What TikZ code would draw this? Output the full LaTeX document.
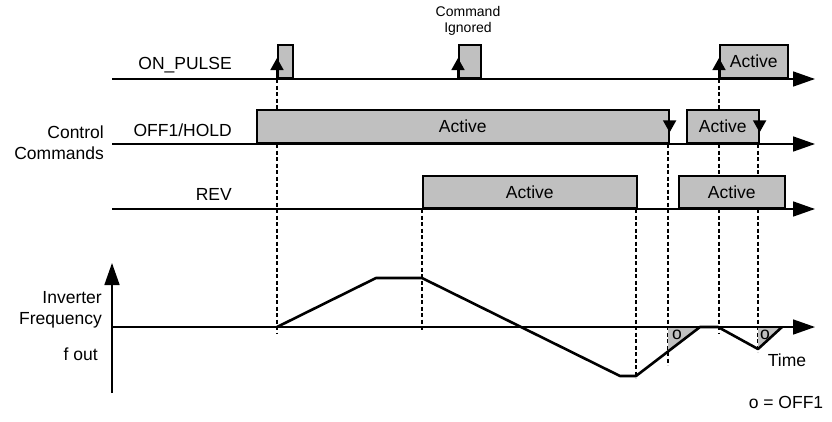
\documentclass[tikz,border=0pt]{standalone}
\usepackage{fontspec}
\setmainfont{Liberation Sans}
\usetikzlibrary{arrows.meta,positioning}
\definecolor{barfill}{RGB}{192,192,192}

\begin{document}
\begin{tikzpicture}[x=1pt,y=-1pt,
    every node/.style={font=\fontsize{17.5}{21}\selectfont,inner sep=0pt},
    axis/.style={line width=1.6pt,-{Triangle[length=22pt,width=15pt]}},
    bar/.style={draw,line width=1.6pt,fill=barfill,anchor=south west},
    trig/.style={line width=1.6pt,-{Triangle[length=12pt,width=13pt]}},
    guide/.style={line width=1.2pt,dash pattern=on 4pt off 2.5pt},
    fcurve/.style={line width=2.6pt,line join=round}]
\useasboundingbox (0,0) rectangle (832,421);

% time lines
\coordinate (on0) at (112,79);
\coordinate (on1) at (815,79);
\coordinate (hold0) at (112,144);
\coordinate (hold1) at (815,144);
\coordinate (rev0) at (112,209);
\coordinate (rev1) at (815,209);
\coordinate (f0) at (112,327);
\coordinate (f1) at (815,327);
\coordinate (fbot) at (112,393);
\coordinate (ftop) at (112,263);

% guide lines, the bars cover them
\foreach \x/\ya/\yb in {277/79/333, 719/79/333, 422/209/331, 636/209/378, 668/144/365, 758/144/352}{
    \coordinate (ga\x) at (\x,\ya);
    \coordinate (gb\x) at (\x,\yb);
    \draw[guide] (ga\x) -- (gb\x);
}

% OFF1 areas
\fill[barfill] (668,327) -- (668,351) -- (700,327) -- cycle;
\fill[barfill] (758,327) -- (758,349) -- (782,327) -- cycle;

\draw[axis] (on0) -- (on1);
\draw[axis] (hold0) -- (hold1);
\draw[axis] (rev0) -- (rev1);
\draw[axis] (f0) -- (f1);
\draw[axis] (fbot) -- (ftop);

% signal bars
\node[bar,minimum width=15pt,minimum height=33pt] (pulse1) at (277,79) {};
\node[bar,minimum width=22pt,minimum height=33pt] (pulse2) at (458,79) {};
\node[bar,minimum width=68pt,minimum height=33pt] (pulse3) at (719,79) {Active};
\node[bar,minimum width=412pt,minimum height=33pt] (hold1) at (256,144) {Active};
\node[bar,minimum width=72pt,minimum height=33pt] (hold2) at (686,144) {Active};
\node[bar,minimum width=214pt,minimum height=32pt] (rev1) at (422,209) {Active};
\node[bar,minimum width=106pt,minimum height=32pt] (rev2) at (678,209) {Active};

% trigger arrows
\foreach \n in {pulse1,pulse2,pulse3}
    \draw[trig] (\n.south west) -- ++(0,-21);
\foreach \n in {hold1,hold2}
    \draw[trig] (\n.north east) ++(0,4) -- ++(0,19);

% frequency
\draw[fcurve] (277,327) -- (376,278) -- (422,278) -- (620,376) -- (636,376)
    -- (700,327) -- (718,327) -- (758,349) -- (782,327);
\node at (677,335) {o};
\node at (765,335) {o};

% labels
\node[anchor=east] (lon) at (232,65) {ON\_PULSE};
\node[anchor=east] (lhold) at (232,130) {OFF1/HOLD};
\node[anchor=east] (lrev) at (232,194) {REV};
\node[anchor=east,align=right] (lctrl) at (104,143) {Control\\Commands};
\node[anchor=east,align=right] (lfreq) at (102,310) {Inverter\\Frequency};
\node[anchor=east] (lfout) at (98,354) {f out};
\node[font=\fontsize{14}{16}\selectfont,align=center] (lign) at (468,21) {Command\\Ignored};
\node (ltime) at (787,360) {Time};
\node (lkey) at (786,402) {o = OFF1};
\end{tikzpicture}
\end{document}
